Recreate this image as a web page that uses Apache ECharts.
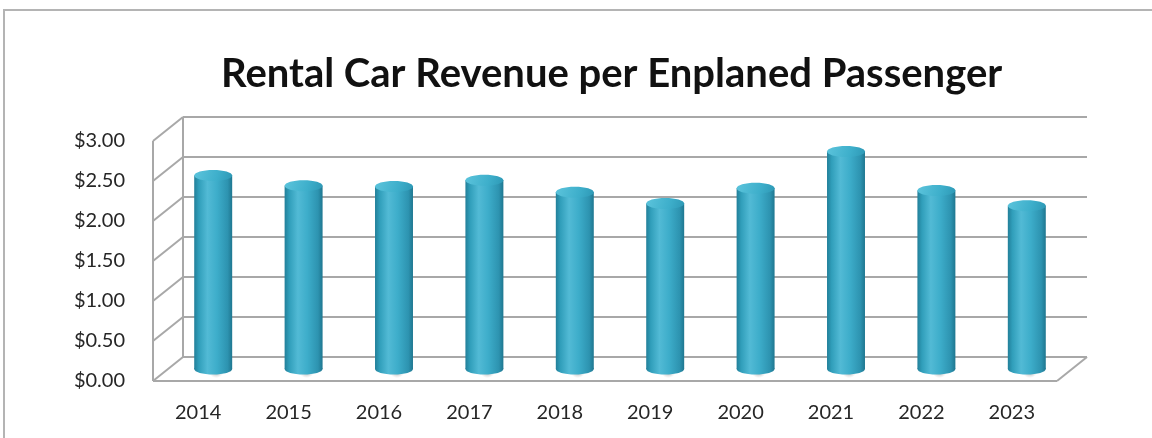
<!DOCTYPE html>
<html>
<head>
<meta charset="utf-8">
<script src="https://cdn.jsdelivr.net/npm/echarts@6/dist/echarts.min.js"></script>
<style>
  html, body { margin: 0; padding: 0; background: #ffffff; }
  #frame { position: absolute; left: 3px; top: 9px; width: 1200px; height: 480px;
           border: 2px solid #b4b4b4; box-sizing: border-box; }
  #chart { position: absolute; left: 0; top: 0; width: 1152px; height: 438px; }
</style>
</head>
<body>
<div id="frame"></div>
<div id="chart"></div>
<script>
// Rental car revenue per enplaned passenger, by year
const years = ['2014', '2015', '2016', '2017', '2018', '2019', '2020', '2021', '2022', '2023'];
const revenue = [2.42, 2.29, 2.28, 2.36, 2.21, 2.07, 2.26, 2.72, 2.23, 2.04];
const yMin = 0;
const yMax = 3;
const yStep = 0.5;

// pseudo-3D depth of the plot box (pixels, back wall relative to front plane)
const DX = 30;
const DY = -24;
const LINE = '#a8a8a8';

const chart = echarts.init(document.getElementById('chart'), null, { renderer: 'canvas' });

const tickValues = [];
for (let k = 0; yMin + k * yStep <= yMax + 1e-9; k++) tickValues.push(+(yMin + k * yStep).toFixed(2));

// walls, floor and back-wall gridlines
function renderFrame(params, api) {
  const cs = params.coordSys;
  const x0 = cs.x, x1 = cs.x + cs.width;
  const children = [];
  const line = (a, b, c, d) => children.push({
    type: 'line', shape: { x1: a, y1: b, x2: c, y2: d },
    style: { stroke: LINE, lineWidth: 2 }
  });
  const yOf = v => api.coord([0, v])[1];
  tickValues.forEach(v => {
    const y = yOf(v);
    line(x0 + DX, y + DY, x1 + DX, y + DY);   // back wall gridline
    line(x0, y, x0 + DX, y + DY);             // side wall gridline
  });
  const yb = yOf(yMin), yt = yOf(yMax);
  line(x0, yb, x0, yt);                        // front left edge
  line(x0 + DX, yb + DY, x0 + DX, yt + DY);    // back left edge
  line(x0, yb, x1, yb);                        // floor front edge
  line(x1, yb, x1 + DX, yb + DY);              // floor right edge
  return { type: 'group', children: children };
}

// cylinders standing at mid-depth of the floor
function renderCylinder(params, api) {
  const i = api.value(0), v = api.value(1);
  const top = api.coord([i, v]);
  const base = api.coord([i, 0]);
  const band = api.size([1, 0])[0];
  const w = band * 0.42;
  const cx = top[0] + DX / 2;
  const ty = top[1] + DY / 2;
  const by = base[1] + DY / 2;
  const ry = 5.5;
  const bodyFill = {
    type: 'linear', x: 0, y: 0, x2: 1, y2: 0,
    colorStops: [
      { offset: 0, color: '#227f99' },
      { offset: 0.12, color: '#309eba' },
      { offset: 0.35, color: '#52bad5' },
      { offset: 0.6, color: '#3dadca' },
      { offset: 0.88, color: '#2d93b0' },
      { offset: 1, color: '#1f7790' }
    ]
  };
  const topFill = {
    type: 'linear', x: 0, y: 0, x2: 1, y2: 1,
    colorStops: [
      { offset: 0, color: '#5cc4dc' },
      { offset: 0.6, color: '#3eafcb' },
      { offset: 1, color: '#2d98b5' }
    ]
  };
  return {
    type: 'group',
    children: [
      {
        type: 'ellipse',
        shape: { cx: cx + 3, cy: by + 1, rx: w * 1.3, ry: 8 },
        style: {
          fill: {
            type: 'radial', x: 0.5, y: 0.5, r: 0.5,
            colorStops: [
              { offset: 0, color: 'rgba(60,60,60,0.6)' },
              { offset: 0.55, color: 'rgba(90,90,90,0.28)' },
              { offset: 1, color: 'rgba(120,120,120,0)' }
            ]
          }
        }
      },
      { type: 'ellipse', shape: { cx: cx, cy: by, rx: w / 2, ry: ry }, style: { fill: bodyFill } },
      { type: 'rect', shape: { x: cx - w / 2, y: ty, width: w, height: by - ty }, style: { fill: bodyFill } },
      { type: 'ellipse', shape: { cx: cx, cy: ty, rx: w / 2, ry: ry }, style: { fill: topFill } }
    ]
  };
}

chart.setOption({
  animation: false,
  backgroundColor: 'transparent',
  title: {
    text: 'Rental Car Revenue per Enplaned Passenger',
    left: 216, top: 49,
    textStyle: { fontFamily: 'Lato', fontWeight: 'bold', fontSize: 40, color: '#111111' }
  },
  grid: { left: 153, right: 95, top: 141, bottom: 57 },
  xAxis: {
    type: 'category',
    data: years,
    boundaryGap: true,
    axisLine: { show: false },
    axisTick: { show: false },
    axisLabel: { margin: 22, fontFamily: 'Lato', fontSize: 20, color: '#262626' }
  },
  yAxis: {
    type: 'value',
    min: yMin, max: yMax, interval: yStep,
    axisLine: { show: false },
    axisTick: { show: false },
    splitLine: { show: false },
    axisLabel: {
      margin: 28, fontFamily: 'Lato', fontSize: 20, color: '#262626',
      formatter: v => '$' + v.toFixed(2)
    }
  },
  series: [
    { type: 'custom', silent: true, clip: false, z: 1, renderItem: renderFrame, data: [[0, 0]] },
    { type: 'custom', silent: true, clip: false, z: 2, renderItem: renderCylinder,
      data: revenue.map((v, i) => [i, v]) }
  ]
});
</script>
</body>
</html>
